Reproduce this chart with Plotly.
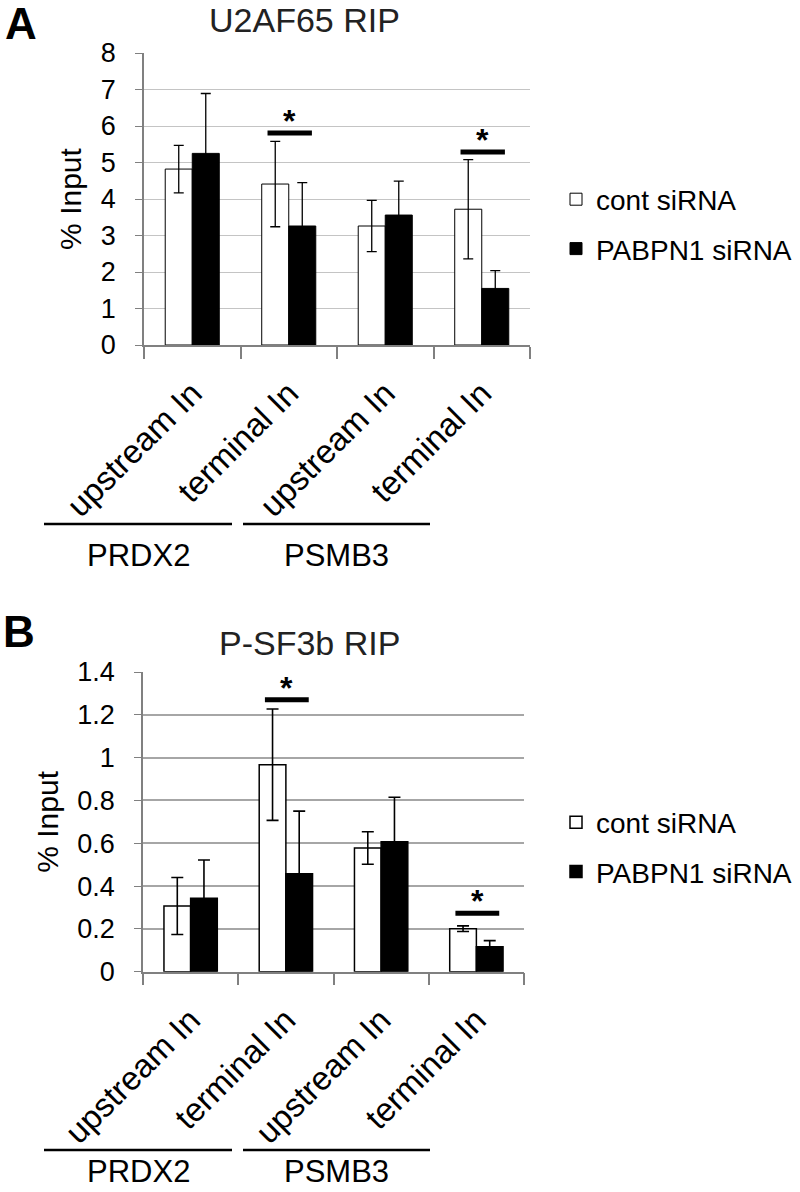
import plotly.graph_objects as go

# ---------------- data ----------------
cat_keys = ["PRDX2 upstream", "PRDX2 terminal", "PSMB3 upstream", "PSMB3 terminal"]
cat_labels = ["upstream In", "terminal In", "upstream In", "terminal In"]
genes = ["PRDX2", "PSMB3"]
series_names = ["cont siRNA", "PABPN1 siRNA"]

a_cont = [4.82, 4.41, 3.26, 3.72]
a_cont_err = [0.65, 1.17, 0.70, 1.36]
a_pab = [5.25, 3.26, 3.56, 1.55]
a_pab_err = [1.64, 1.19, 0.93, 0.49]
a_sig_cats = [1, 3]
a_sig_y = [5.81, 5.29]

b_cont = [0.307, 0.967, 0.578, 0.201]
b_cont_err = [0.133, 0.26, 0.076, 0.013]
b_pab = [0.343, 0.457, 0.607, 0.117]
b_pab_err = [0.179, 0.293, 0.208, 0.028]
b_sig_cats = [1, 3]
b_sig_y = [1.27, 0.273]

titles = ["U2AF65 RIP", "P-SF3b RIP"]
panel_letters = ["A", "B"]

W, H = 800, 1192
FONT = "Arial, Liberation Sans, sans-serif"

def px_x(p):
    return p / W

def px_y(p):
    return 1 - p / H

fig = go.Figure()

panels = [
    dict(cont=a_cont, cerr=a_cont_err, pab=a_pab, perr=a_pab_err, sig_c=a_sig_cats, sig_y=a_sig_y,
         xa="x", ya="y", legend="legend", xdom=[144, 530], ydom=[53, 345], yr=[0, 8], dt=1,
         grid="#c4c4c4", gw=1, ew=1.3, cw=5, bw=1, title_xy=(304, 20), letter_xy=(21, 24),
         leg_y=224, bracket_y=524, gene_y=556, ystand=14),
    dict(cont=b_cont, cerr=b_cont_err, pab=b_pab, perr=b_pab_err, sig_c=b_sig_cats, sig_y=b_sig_y,
         xa="x2", ya="y2", legend="legend2", xdom=[143, 524], ydom=[672, 971.7], yr=[0, 1.4], dt=0.2,
         grid="#a6a6a6", gw=1.5, ew=1.6, cw=6, bw=1.5, title_xy=(309, 643), letter_xy=(19, 631),
         leg_y=847, bracket_y=1150, gene_y=1171, ystand=14),
]

for i, p in enumerate(panels):
    fig.add_trace(go.Bar(
        x=cat_keys, y=p["cont"], name=series_names[0], xaxis=p["xa"], yaxis=p["ya"],
        legend=p["legend"], legendgroup=f"c{i}",
        marker=dict(color="white", line=dict(color="black", width=p["bw"])),
        error_y=dict(type="data", array=p["cerr"], visible=True, color="black",
                     thickness=p["ew"], width=p["cw"]),
    ))
    fig.add_trace(go.Bar(
        x=cat_keys, y=p["pab"], name=series_names[1], xaxis=p["xa"], yaxis=p["ya"],
        legend=p["legend"], legendgroup=f"p{i}",
        marker=dict(color="black", line=dict(color="black", width=p["bw"])),
        error_y=dict(type="data", array=p["perr"], visible=True, color="black",
                     thickness=p["ew"], width=p["cw"]),
    ))
    # significance bars and stars
    for c, yv in zip(p["sig_c"], p["sig_y"]):
        fig.add_shape(type="line", xref=p["xa"], yref=p["ya"], x0=c - 0.22, x1=c + 0.24,
                      y0=yv, y1=yv, line=dict(color="black", width=5))
        fig.add_annotation(xref=p["xa"], yref=p["ya"], x=c + 0.01, y=yv, text="<b>*</b>",
                           showarrow=False, yanchor="bottom", yshift=-8,
                           font=dict(size=32, color="black", family=FONT))
    # titles
    fig.add_annotation(xref="paper", yref="paper", x=px_x(p["title_xy"][0]), y=px_y(p["title_xy"][1]),
                       text=titles[i], showarrow=False, xanchor="center", yanchor="middle",
                       font=dict(size=34, color="#222", family=FONT))
    fig.add_annotation(xref="paper", yref="paper", x=px_x(p["letter_xy"][0]), y=px_y(p["letter_xy"][1]),
                       text=f"<b>{panel_letters[i]}</b>", showarrow=False, xanchor="center",
                       yanchor="middle", font=dict(size=44, color="black", family=FONT))
    # gene brackets
    for g, (x0, x1) in zip(genes, [(44, 232), (243, 430)]):
        fig.add_shape(type="line", xref="paper", yref="paper", x0=px_x(x0), x1=px_x(x1),
                      y0=px_y(p["bracket_y"]), y1=px_y(p["bracket_y"]),
                      line=dict(color="black", width=2.5))
        fig.add_annotation(xref="paper", yref="paper", x=px_x((x0 + x1) / 2), y=px_y(p["gene_y"]),
                           text=g, showarrow=False, xanchor="center", yanchor="middle",
                           borderpad=0, font=dict(size=31, color="black", family=FONT))

    xdom = [px_x(p["xdom"][0]), px_x(p["xdom"][1])]
    ydom = [px_y(p["ydom"][1]), px_y(p["ydom"][0])]
    xkey = "xaxis" if i == 0 else "xaxis2"
    ykey = "yaxis" if i == 0 else "yaxis2"
    fig.update_layout(**{
        xkey: dict(domain=xdom, anchor=p["ya"], type="category", categoryorder="array",
                   categoryarray=cat_keys, tickmode="array", tickvals=cat_keys, ticktext=cat_labels,
                   tickson="boundaries", ticks="outside", ticklen=12, tickcolor="#808080",
                   tickwidth=1.5, showline=True, linecolor="#808080", linewidth=1.5,
                   tickangle=-45, ticklabelstandoff=14, showgrid=False, automargin=False,
                   tickfont=dict(size=33, color="black", family=FONT)),
        ykey: dict(domain=ydom, anchor=p["xa"], range=p["yr"], dtick=p["dt"], tick0=0,
                   showgrid=True, gridcolor=p["grid"], gridwidth=p["gw"], automargin=False,
                   showline=True, linecolor="#808080", linewidth=1.5, ticks="outside", ticklen=7,
                   tickcolor="#808080", zeroline=False, ticklabelstandoff=p["ystand"],
                   title=dict(text="% Input", font=dict(size=30, color="black", family=FONT), standoff=10),
                   tickfont=dict(size=27, color="black", family=FONT)),
        p["legend"]: dict(x=px_x(556), y=px_y(p["leg_y"]), xanchor="left", yanchor="middle",
                          font=dict(size=28, color="black", family=FONT), bgcolor="rgba(0,0,0,0)",
                          tracegroupgap=10, traceorder="grouped", itemwidth=30),
    })

fig.update_layout(
    width=W, height=H, margin=dict(l=0, r=0, t=0, b=0, autoexpand=False),
    paper_bgcolor="white", plot_bgcolor="white",
    barmode="group", bargap=0.44, bargroupgap=0,
    showlegend=True,
    font=dict(family=FONT, color="black"),
)

fig.write_html("out.html", config={"displayModeBar": False},
               post_script="document.body.style.margin='0';")
